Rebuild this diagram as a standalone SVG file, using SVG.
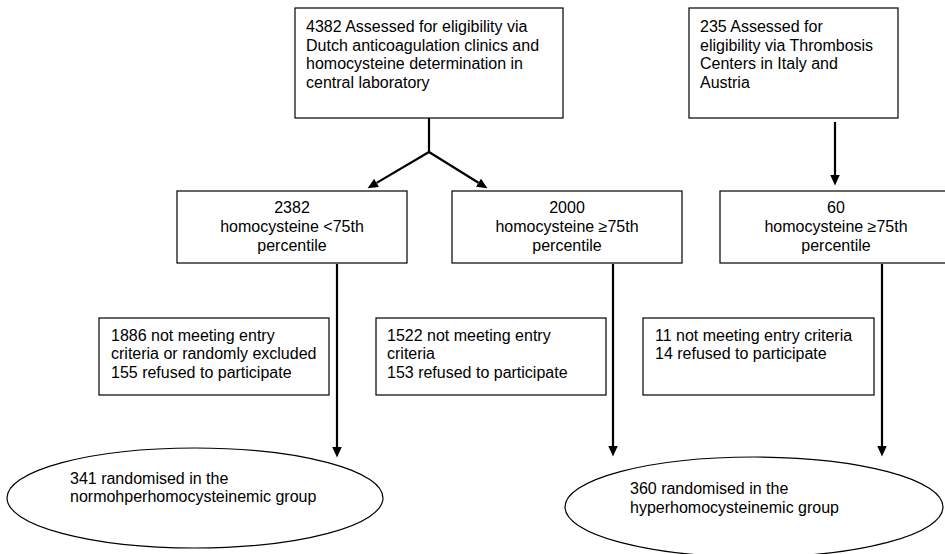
<svg xmlns="http://www.w3.org/2000/svg" width="945" height="554" viewBox="0 0 945 554">
<defs>
<style>
.box{fill:#fff;stroke:#000;stroke-width:1.2}
.t{font-family:"Liberation Sans",Arial,sans-serif;font-size:16px;fill:#000}
.c{text-anchor:middle}
.con{stroke:#000;stroke-width:2.2;fill:none}
</style>
<marker id="ah" markerUnits="userSpaceOnUse" markerWidth="11" markerHeight="10" refX="0" refY="4.75" orient="auto">
<path d="M0,0 L10.5,4.75 L0,9.5 z" fill="#000"/>
</marker>
</defs>
<rect width="945" height="554" fill="#fff"/>
<g id="connectors">
<path class="con" d="M429,118 V152"/>
<path class="con" d="M429,152 L376.6,182.9" marker-end="url(#ah)"/>
<path class="con" d="M429,152 L478.5,182.7" marker-end="url(#ah)"/>
<path class="con" d="M835,122 V175" marker-end="url(#ah)"/>
<path class="con" d="M337,264 V447" marker-end="url(#ah)"/>
<path class="con" d="M613,264 V446" marker-end="url(#ah)"/>
<path class="con" d="M882,264 V446" marker-end="url(#ah)"/>
</g>
<g id="n4382">
<rect class="box" x="295" y="8" width="268" height="110"/>
<text class="t" x="306" y="32">4382 Assessed for eligibility via</text>
<text class="t" x="306" y="50.5">Dutch anticoagulation clinics and</text>
<text class="t" x="306" y="69">homocysteine determination in</text>
<text class="t" x="306" y="87.5">central laboratory</text>
</g>
<g id="n235">
<rect class="box" x="689" y="8" width="209" height="110"/>
<text class="t" x="700" y="32">235 Assessed for</text>
<text class="t" x="700" y="50.5">eligibility via Thrombosis</text>
<text class="t" x="700" y="69">Centers in Italy and</text>
<text class="t" x="700" y="87.5">Austria</text>
</g>
<g id="n2382">
<rect class="box" x="177" y="191" width="230" height="72"/>
<text class="t c" x="292" y="213">2382</text>
<text class="t c" x="292" y="232">homocysteine &lt;75th</text>
<text class="t c" x="292" y="251">percentile</text>
</g>
<g id="n2000">
<rect class="box" x="452" y="191" width="230" height="72"/>
<text class="t c" x="567" y="213">2000</text>
<text class="t c" x="567" y="232">homocysteine ≥75th</text>
<text class="t c" x="567" y="251">percentile</text>
</g>
<g id="n60">
<rect class="box" x="720" y="191" width="232" height="72"/>
<text class="t c" x="836" y="213">60</text>
<text class="t c" x="836" y="232">homocysteine ≥75th</text>
<text class="t c" x="836" y="251">percentile</text>
</g>
<g id="n1886">
<rect class="box" x="99" y="318" width="230" height="77"/>
<text class="t" x="111" y="340.5">1886 not meeting entry</text>
<text class="t" x="111" y="359">criteria or randomly excluded</text>
<text class="t" x="111" y="377.5">155 refused to participate</text>
</g>
<g id="n1522">
<rect class="box" x="376" y="318" width="230" height="77"/>
<text class="t" x="387" y="340.5">1522 not meeting entry</text>
<text class="t" x="387" y="359">criteria</text>
<text class="t" x="387" y="377.5">153 refused to participate</text>
</g>
<g id="n11">
<rect class="box" x="643" y="318" width="231" height="77"/>
<text class="t" x="655" y="340.5">11 not meeting entry criteria</text>
<text class="t" x="655" y="359">14 refused to participate</text>
</g>
<g id="n341">
<ellipse class="box" cx="195" cy="498" rx="188" ry="50"/>
<text class="t" x="70" y="483.5">341 randomised in the</text>
<text class="t" x="70" y="502">normohperhomocysteinemic group</text>
</g>
<g id="n360">
<ellipse class="box" cx="754" cy="507" rx="189" ry="50"/>
<text class="t" x="630" y="494">360 randomised in the</text>
<text class="t" x="630" y="512.5">hyperhomocysteinemic group</text>
</g>
</svg>
